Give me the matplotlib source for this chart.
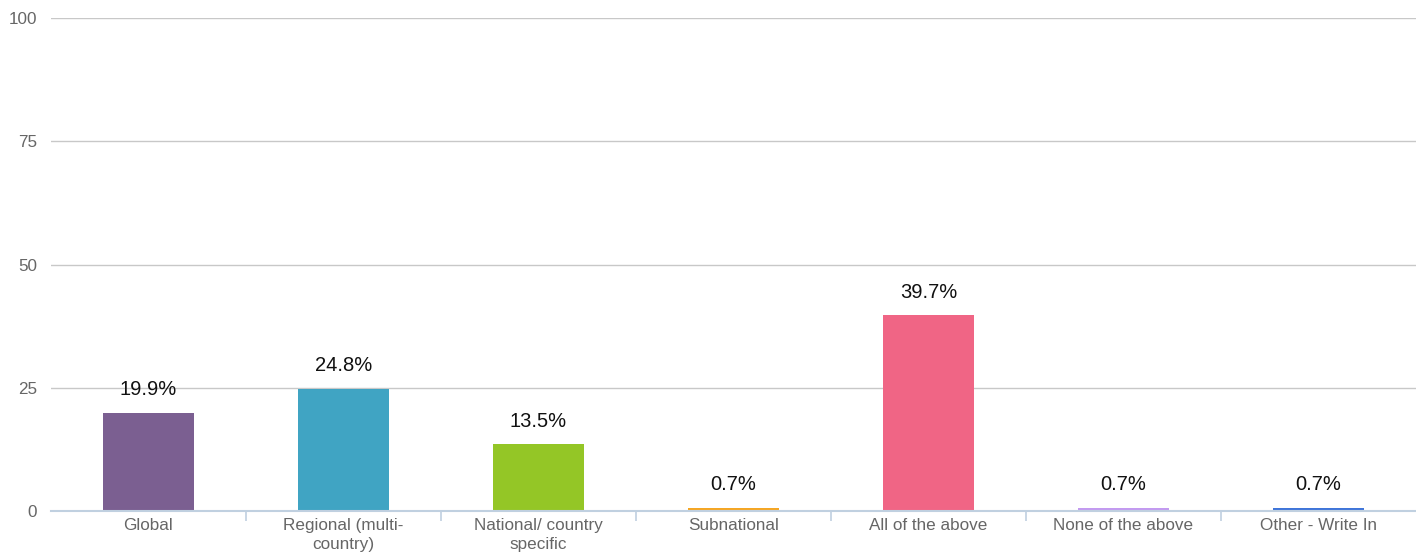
import matplotlib
matplotlib.use("Agg")
import matplotlib.pyplot as plt
from matplotlib.ticker import FixedLocator

categories = ["Global", "Regional (multi-\ncountry)", "National/ country\nspecific",
              "Subnational", "All of the above", "None of the above", "Other - Write In"]
values = [19.9, 24.8, 13.5, 0.7, 39.7, 0.7, 0.7]
labels = ["19.9%", "24.8%", "13.5%", "0.7%", "39.7%", "0.7%", "0.7%"]
colors = ["#7b5f91", "#40a4c3", "#94c626", "#f5a623", "#f06585", "#c39af0", "#3f75d9"]
yticks = [0, 25, 50, 75, 100]

plt.rcParams['font.family'] = ['Liberation Sans', 'DejaVu Sans']

fig = plt.figure(figsize=(14.16, 5.57), dpi=100)
ax = fig.add_axes([0.036, 0.0826, 0.964, 0.885])

x = list(range(len(categories)))
ax.bar(x, values, width=0.47, color=colors, zorder=3)
for xi, v, lab in zip(x, values, labels):
    ax.annotate(lab, (xi, v), xytext=(0, 16.5), textcoords="offset points",
                ha="center", va="center", fontsize=14.5, color="#111111", zorder=4)

ax.set_xlim(-0.5, len(categories) - 0.5)
ax.set_ylim(0, 100)
ax.set_yticks(yticks)
ax.set_yticklabels([str(t) for t in yticks], fontsize=12.3, color="#666666")
ax.yaxis.grid(True, color="#c8c8c8", linewidth=1.0, zorder=0)
ax.tick_params(axis="y", length=0, pad=10)

ax.set_xticks(x)
ax.set_xticklabels(categories, fontsize=12.3, color="#666666", linespacing=1.3)
ax.tick_params(axis="x", which="major", length=0, pad=5)
ax.xaxis.set_minor_locator(FixedLocator([i + 0.5 for i in range(len(categories) - 1)]))
ax.tick_params(axis="x", which="minor", length=7, color="#c0d0e0", width=1.2)

for s in ["top", "right", "left"]:
    ax.spines[s].set_visible(False)
ax.spines["bottom"].set_color("#c0d0e0")
ax.spines["bottom"].set_linewidth(1.5)
ax.spines["bottom"].set_zorder(5)

fig.savefig("out.png", dpi=100, facecolor="white")
